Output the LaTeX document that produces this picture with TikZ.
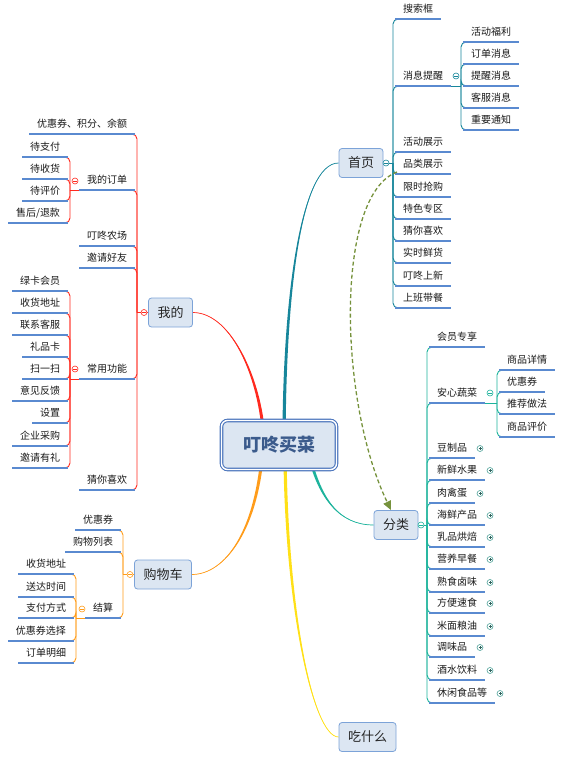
\documentclass[tikz,border=0pt]{standalone}
\usepackage{fontspec}
\setmainfont{Noto Sans CJK SC}
\usetikzlibrary{arrows.meta,calc,backgrounds}
\definecolor{hpc}{HTML}{17869B}
\definecolor{wdc}{HTML}{FF2A1F}
\definecolor{flc}{HTML}{1DB39C}
\definecolor{gwc}{HTML}{FF9C1A}
\definecolor{csc}{HTML}{FFE017}
\definecolor{ulc}{HTML}{5A8AD0}
\definecolor{boxfill}{HTML}{DCE6F2}
\definecolor{boxdraw}{HTML}{7CA3D8}
\definecolor{ctrdraw}{HTML}{4A74BC}
\definecolor{ctrtext}{HTML}{3B5B8C}
\definecolor{dashc}{HTML}{76923C}
\definecolor{pmc}{HTML}{4FA39A}
\newcommand\taper[6]{%
  \fill[#1] ($#2+(-#6,0)$) .. controls ($#3+(-#6,0)$) and #4 .. #5 .. controls #4 and ($#3+(#6,0)$) .. ($#2+(#6,0)$) -- cycle;
  \draw[#1, line width=0.7pt] #2 .. controls #3 and #4 .. #5;}
\newcommand\mkminus[3]{% name, color, position
  \node[mk, draw=#2] (#1) at #3 {};
  \draw[#2, line width=0.5pt] ([xshift=-1.6pt]#1.center) -- ([xshift=1.6pt]#1.center);}
\newcommand\pmk[2]{% name, leaf
  \node[mk, draw=pmc] (#1) at ([xshift=5pt]#2.east) {};
  \draw[pmc!60!black, line width=0.5pt] ([xshift=-1.5pt]#1.center) -- ([xshift=1.5pt]#1.center) ([yshift=-1.5pt]#1.center) -- ([yshift=1.5pt]#1.center);}
\begin{document}
\begin{tikzpicture}[x=1pt,y=-1pt,
  leaf/.style={font=\fontsize{10}{12}\selectfont, text=black!90, inner xsep=8pt, inner ysep=0pt, minimum height=19pt, text height=8pt, text depth=1.5pt, outer sep=0pt},
  lr/.style={leaf, anchor=south west},
  ll/.style={leaf, anchor=south east},
  topic/.style={draw=boxdraw, fill=boxfill, rounded corners=3pt, minimum height=29pt, inner xsep=9pt, font=\fontsize{13}{15}\selectfont, text=black!85, line width=0.8pt},
  ctrbox/.style={draw=ctrdraw, line width=1.1pt, double=white, double distance=1.4pt, fill=boxfill, rounded corners=6pt, minimum width=115pt, minimum height=49pt, font=\fontsize{18}{20}\selectfont\bfseries, text=ctrtext},
  br/.style={line width=0.9pt, rounded corners=5pt},
  ul/.style={draw=ulc, line width=1.2pt},
  mk/.style={circle, fill=white, inner sep=0pt, minimum size=6pt, line width=0.6pt},
]
\useasboundingbox (0,0) rectangle (562,760);

% ---------- topics ----------
\node[ctrbox] (ctr) at (279,445) {叮咚买菜};
\node[topic] (hp) at (361,163) {首页};
\node[topic] (wd) at (170.5,312.5) {我的};
\node[topic] (fl) at (396,525) {分类};
\node[topic] (gw) at (163,574.5) {购物车};
\node[topic] (cs) at (367.5,737) {吃什么};

\coordinate (sw) at ([xshift=-15pt]ctr.center);
\coordinate (sh) at ([xshift=5pt]ctr.center);
\coordinate (sg) at ([xshift=-16pt]ctr.center);
\coordinate (sc) at ([xshift=6pt]ctr.center);
\coordinate (sf) at ([xshift=28pt]ctr.center);

\begin{scope}[on background layer]
  \taper{wdc}{(sw)}{(263,385)}{(233,312.5)}{(wd.east)}{1.6}
  \taper{hpc}{(sh)}{(284,300)}{(300,163)}{(hp.west)}{1.6}
  \taper{gwc}{(sg)}{(258,530)}{(225,574.5)}{(gw.east)}{1.6}
  \taper{csc}{(sc)}{(285,600)}{(312,737)}{(cs.west)}{1.6}
  \taper{flc}{(sf)}{(318,500)}{(340,525)}{(fl.west)}{1.6}
\end{scope}

% ---------- 首页 ----------
\node[lr] (h1) at (395,19) {搜索框};
\node[lr] (h2) at (395,86) {消息提醒};
\node[lr] (h3) at (395,152) {活动展示};
\node[lr] (h4) at (395,174) {品类展示};
\node[lr] (h5) at (395,197) {限时抢购};
\node[lr] (h6) at (395,219) {特色专区};
\node[lr] (h7) at (395,241) {猜你喜欢};
\node[lr] (h8) at (395,263) {实时鲜货};
\node[lr] (h9) at (395,286) {叮咚上新};
\node[lr] (h10) at (395,308) {上班带餐};
\coordinate (hS) at (393,163);
\draw[hpc, line width=1pt] (hp.east) -- (hS);
\foreach \i in {1,...,10} {\draw[br, hpc] (hS) |- ([xshift=6pt]h\i.south west);}
\foreach \i in {1,...,10} {\draw[ul] (h\i.south west) -- (h\i.south east);}

\node[lr] (m1) at (463,42) {活动福利};
\node[lr] (m2) at (463,64) {订单消息};
\node[lr] (m3) at (463,86) {提醒消息};
\node[lr] (m4) at (463,108) {客服消息};
\node[lr] (m5) at (463,130) {重要通知};
\coordinate (mS) at (461,86);
\draw[hpc, line width=0.9pt] (h2.south east) -- (mS);
\foreach \i in {1,...,5} {\draw[br, hpc] (mS) |- ([xshift=6pt]m\i.south west);}
\foreach \i in {1,...,5} {\draw[ul] (m\i.south west) -- (m\i.south east);}
\mkminus{mkh}{hpc}{(386,163)}
\mkminus{mkm}{hpc}{(456,76)}

% ---------- 我的 ----------
\node[ll] (w1) at (135,134) {优惠券、积分、余额};
\node[ll] (w2) at (135,190) {我的订单};
\node[ll] (w3) at (135,246) {叮咚农场};
\node[ll] (w4) at (135,268) {邀请好友};
\node[ll] (w5) at (135,379) {常用功能};
\node[ll] (w6) at (135,490) {猜你喜欢};
\coordinate (wS) at (137,312.5);
\draw[wdc, line width=1pt] (wd.west) -- (wS);
\foreach \i in {1,...,6} {\draw[br, wdc] (wS) |- ([xshift=-6pt]w\i.south east);}
\foreach \i in {1,...,6} {\draw[ul] (w\i.south west) -- (w\i.south east);}

\node[ll] (o1) at (68,157) {待支付};
\node[ll] (o2) at (68,179) {待收货};
\node[ll] (o3) at (68,201) {待评价};
\node[ll] (o4) at (68,223) {售后/退款};
\coordinate (oS) at (70,190);
\draw[wdc, line width=0.9pt] (w2.south west) -- (oS);
\foreach \i in {1,...,4} {\draw[br, wdc] (oS) |- ([xshift=-6pt]o\i.south east);}
\foreach \i in {1,...,4} {\draw[ul] (o\i.south west) -- (o\i.south east);}

\node[ll] (u1) at (68,291) {绿卡会员};
\node[ll] (u2) at (68,313) {收货地址};
\node[ll] (u3) at (68,335) {联系客服};
\node[ll] (u4) at (68,357) {礼品卡};
\node[ll] (u5) at (68,379) {扫一扫};
\node[ll] (u6) at (68,401) {意见反馈};
\node[ll] (u7) at (68,423) {设置};
\node[ll] (u8) at (68,446) {企业采购};
\node[ll] (u9) at (68,468) {邀请有礼};
\coordinate (uS) at (70,379);
\draw[wdc, line width=0.9pt] (w5.south west) -- (uS);
\foreach \i in {1,...,9} {\draw[br, wdc] (uS) |- ([xshift=-6pt]u\i.south east);}
\foreach \i in {1,...,9} {\draw[ul] (u\i.south west) -- (u\i.south east);}
\mkminus{mkw}{wdc}{(144,312.5)}
\mkminus{mko}{wdc}{(75,181)}
\mkminus{mku}{wdc}{(75,369)}

% ---------- 购物车 ----------
\node[ll] (g1) at (121,530) {优惠券};
\node[ll] (g2) at (121,552) {购物列表};
\node[ll] (g3) at (121,618) {结算};
\coordinate (gS) at (123,574.5);
\draw[gwc, line width=1pt] (gw.west) -- (gS);
\foreach \i in {1,...,3} {\draw[br, gwc] (gS) |- ([xshift=-6pt]g\i.south east);}
\foreach \i in {1,...,3} {\draw[ul] (g\i.south west) -- (g\i.south east);}

\node[ll] (j1) at (74,574) {收货地址};
\node[ll] (j2) at (74,597) {送达时间};
\node[ll] (j3) at (74,618) {支付方式};
\node[ll] (j4) at (74,641) {优惠券选择};
\node[ll] (j5) at (74,663) {订单明细};
\coordinate (jS) at (76,618);
\draw[gwc, line width=0.9pt] (g3.south west) -- (jS);
\foreach \i in {1,...,5} {\draw[br, gwc] (jS) |- ([xshift=-6pt]j\i.south east);}
\foreach \i in {1,...,5} {\draw[ul] (j\i.south west) -- (j\i.south east);}
\mkminus{mkg}{gwc}{(130,574.5)}
\mkminus{mkj}{gwc}{(82,609)}

% ---------- 分类 ----------
\node[lr] (f1) at (429,347) {会员专享};
\node[lr] (f2) at (429,403) {安心蔬菜};
\node[lr] (f3) at (429,458) {豆制品};
\node[lr] (f4) at (429,480) {新鲜水果};
\node[lr] (f5) at (429,503) {肉禽蛋};
\node[lr] (f6) at (429,525) {海鲜产品};
\node[lr] (f7) at (429,547) {乳品烘焙};
\node[lr] (f8) at (429,569) {营养早餐};
\node[lr] (f9) at (429,592) {熟食卤味};
\node[lr] (f10) at (429,613) {方便速食};
\node[lr] (f11) at (429,636) {米面粮油};
\node[lr] (f12) at (429,657) {调味品};
\node[lr] (f13) at (429,680) {酒水饮料};
\node[lr] (f14) at (429,703) {休闲食品等};
\coordinate (fS) at (427,525);
\draw[flc, line width=1pt] (fl.east) -- (fS);
\foreach \i in {1,...,14} {\draw[br, flc] (fS) |- ([xshift=6pt]f\i.south west);}
\foreach \i in {1,...,14} {\draw[ul] (f\i.south west) -- (f\i.south east);}
\foreach \i in {3,...,14} {\pmk{p\i}{f\i}}

\node[lr] (a1) at (499,370) {商品详情};
\node[lr] (a2) at (499,392) {优惠券};
\node[lr] (a3) at (499,414) {推荐做法};
\node[lr] (a4) at (499,437) {商品评价};
\coordinate (aS) at (497,403);
\draw[flc, line width=0.9pt] (f2.south east) -- (aS);
\foreach \i in {1,...,4} {\draw[br, flc] (aS) |- ([xshift=6pt]a\i.south west);}
\foreach \i in {1,...,4} {\draw[ul] (a\i.south west) -- (a\i.south east);}
\mkminus{mkf}{flc}{(421,525)}
\mkminus{mka}{flc}{(490,393)}

% ---------- dashed relation ----------
\draw[dashc, line width=1.3pt, dash pattern=on 4pt off 2.5pt, -{Triangle[length=9pt,width=8pt]}]
  ([xshift=2pt,yshift=2pt]h4.south west) .. controls (335,195) and (338,400) .. ([xshift=-5pt]fl.north);
\end{tikzpicture}
\end{document}
